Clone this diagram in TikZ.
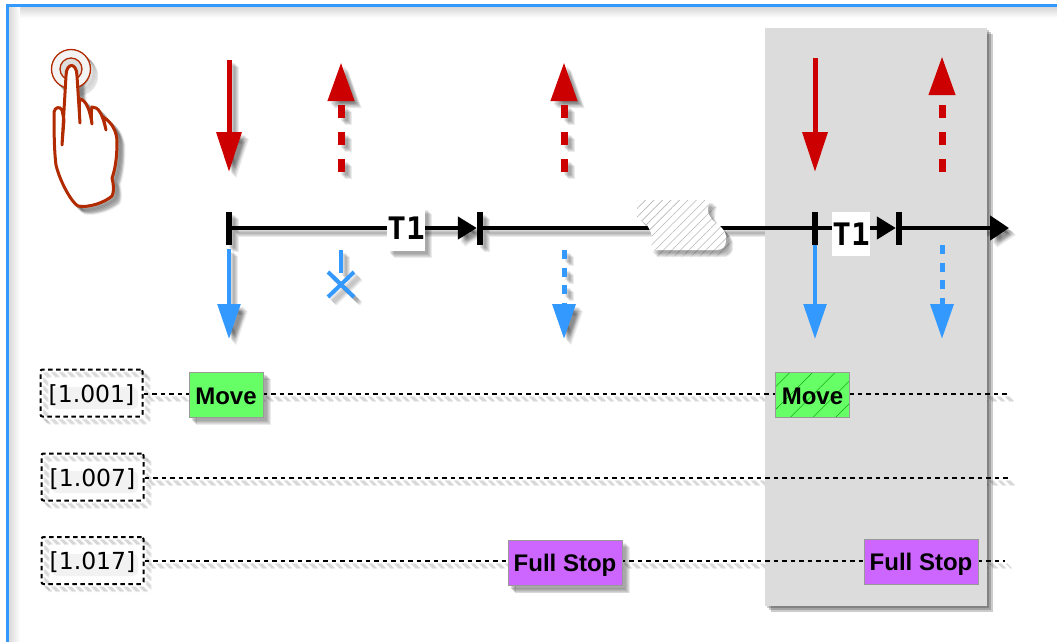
\documentclass[tikz,border=0pt]{standalone}
\usepackage{fontspec}
\usetikzlibrary{arrows.meta,calc,positioning,patterns.meta}
\newfontfamily\boxfamily{Liberation Sans}
\newfontfamily\idfamily{DejaVu Sans}
\newfontfamily\timefamily{DejaVu Sans Mono}

\definecolor{redmark}{HTML}{CC0000}
\definecolor{bluemark}{HTML}{3399FF}
\definecolor{boxgreen}{HTML}{66FF66}
\definecolor{boxpurple}{HTML}{CC66FF}
\definecolor{handred}{HTML}{B22A00}
\definecolor{blackmark}{HTML}{000000}
\definecolor{paper}{HTML}{FFFFFF}
\definecolor{ringgray}{HTML}{DDDDDD}
\definecolor{boxedge}{HTML}{999999}
\definecolor{panelgray}{HTML}{DCDCDC}

% Shadow layers leave the texts out
\newif\ifshadowpass
\newcommand{\scenetext}[1]{\ifshadowpass\else#1\fi}
\newcommand{\lowtext}[1]{\scenetext{\raisebox{-2pt}[\height][\depth]{#1}}}

\tikzset{
    redsolid/.style={draw=redmark,line width=5pt,-{Triangle[length=40pt,width=24.5pt,color=redmark]}},
    reddash/.style={draw=redmark,line width=7pt,dash pattern=on 13pt off 14pt,-{Triangle[length=39pt,width=25pt,color=redmark]}},
    bluesolid/.style={draw=bluemark,line width=4pt,-{Triangle[length=35pt,width=22.5pt,color=bluemark]}},
    bluedash/.style={draw=bluemark,line width=5pt,dash pattern=on 9pt off 8.5pt,-{Triangle[length=35pt,width=22.5pt,color=bluemark]}},
    bluecross/.style={draw=bluemark,line width=4pt},
    tickmark/.style={fill=blackmark,inner sep=0pt,minimum width=6pt,minimum height=33pt},
    axisline/.style={draw=blackmark,line width=4.5pt},
    axisarrow/.style={axisline,-{Triangle[length=19pt,width=22pt,color=blackmark]}},
    timebox/.style={fill=paper,inner sep=0pt,minimum width=38pt,minimum height=44pt,text=blackmark,font=\timefamily\bfseries\fontsize{31}{31}\selectfont},
    idbox/.style={draw=blackmark,line width=2pt,dash pattern=on 4.5pt off 3.5pt,rounded corners=2pt,inner sep=0pt,minimum width=102pt,minimum height=47pt,text=blackmark,font=\idfamily\fontsize{23.5}{24}\selectfont},
    rowline/.style={draw=blackmark,line width=2pt,dash pattern=on 4.5pt off 4pt},
    statebox/.style={draw=boxedge,line width=1pt,inner sep=0pt,minimum height=45pt,text=blackmark,font=\boxfamily\bfseries\fontsize{24}{24}\selectfont},
    movebox/.style={statebox,fill=boxgreen,minimum width=74pt},
    stopbox/.style={statebox,fill=boxpurple,minimum width=114pt},
    handline/.style={draw=handred,line width=3pt,line cap=round,line join=round},
}

% Everything that throws a shadow, drawn once per shadow layer and once for real
\newcommand{\diagramscene}{
    % Touching hand
    \filldraw[handline,line width=1.3pt,fill=ringgray!35] (71,69) circle (19.5);
    \filldraw[handline,line width=1.3pt,fill=ringgray] (71,69) circle (11);
    \filldraw[handline,fill=paper] (66,76) .. controls (66,62) and (77,62) .. (77,76) -- (80,123)
        .. controls (79,108) and (79,104) .. (80,99) .. controls (86,100) and (90,110) .. (92,124)
        .. controls (91,118) and (91,112) .. (92,107) .. controls (98,107) and (102,112) .. (106,130)
        .. controls (105,125) and (104,121) .. (103,117) .. controls (112,122) and (117,132) .. (117,142)
        .. controls (117,158) and (115,170) .. (112,178) .. controls (114,186) and (114,192) .. (112,196)
        .. controls (104,203) and (88,208) .. (78,206) .. controls (72,203) and (60,182) .. (56,165)
        .. controls (54,150) and (54,125) .. (54,112) .. controls (55,107) and (60,106) .. (62,110)
        -- (64,120) -- (62,145) -- cycle;

    % Press and release arrows of the finger
    \foreach \name/\x/\ya/\yb in {ra/229/60/172,rb/815/58/172} {
        \coordinate (\name s) at (\x,\ya);
        \coordinate (\name e) at (\x,\yb);
        \draw[redsolid] (\name s) -- (\name e);
    }
    \foreach \name/\x/\yb in {rc/341/62,rd/564/62,re/942/56} {
        \coordinate (\name s) at (\x,172);
        \coordinate (\name e) at (\x,\yb);
        \draw[reddash] (\name s) -- (\name e);
    }

    % Time line with its ticks
    \node[tickmark] (tick0) at (228.5,228) {};
    \node[tickmark] (tick1) at (480,228) {};
    \node[tickmark] (tick2) at (815,228) {};
    \node[tickmark] (tick3) at (899,228) {};
    \coordinate (axisend) at (1009,228);
    \draw[axisarrow] (tick0) -- (tick1);
    \draw[axisline] (tick1) -- (tick2);
    \draw[axisarrow] (tick2) -- (tick3);
    \draw[axisarrow,-{Triangle[length=19pt,width=24pt,color=blackmark]}] (tick3) -- (axisend);
    \node[timebox] (timea) at (406,228.5) {\scenetext{T1}};
    \node[timebox] (timeb) at (851,234) {\scenetext{T1}};

    % Gap in the time line
    \path[fill=paper] (637,200) -- (710,200)
        .. controls (705,213) and (710,218) .. (716,223) .. controls (726,230) and (727,236) .. (726,241)
        .. controls (726,247) and (722,250) .. (716,250) -- (650,250)
        .. controls (655,238) and (650,230) .. (647,225) -- (637,217) -- cycle;
    \path[pattern={Lines[angle=45,distance=6pt,line width=.6pt]},pattern color=boxedge!70] (637,200) -- (710,200)
        .. controls (705,213) and (710,218) .. (716,223) .. controls (726,230) and (727,236) .. (726,241)
        .. controls (726,247) and (722,250) .. (716,250) -- (650,250)
        .. controls (655,238) and (650,230) .. (647,225) -- (637,217) -- cycle;

    % Arrows to the screen
    \foreach \name/\x/\ya in {ba/229/249,bb/815/245} {
        \coordinate (\name s) at (\x,\ya);
        \coordinate (\name e) at (\x,339);
        \draw[bluesolid] (\name s) -- (\name e);
    }
    \foreach \name/\x/\ya in {bc/564/250,bd/942/245} {
        \coordinate (\name s) at (\x,\ya);
        \coordinate (\name e) at (\x,339);
        \draw[bluedash] (\name s) -- (\name e);
    }
    \coordinate (bxs) at (341,250);
    \coordinate (bxe) at (341,273);
    \coordinate (bx1) at (328,272);
    \coordinate (bx2) at (354,297);
    \coordinate (bx3) at (354,272);
    \coordinate (bx4) at (328,297);
    \draw[bluecross] (bxs) -- (bxe);
    \draw[bluecross] (bx1) -- (bx2);
    \draw[bluecross] (bx3) -- (bx4);

    % Rows of the view ids
    \node[idbox] (ida) at (91.5,393) {\lowtext{[1.001]}};
    \node[idbox] (idb) at (92.5,477) {\lowtext{[1.007]}};
    \node[idbox] (idc) at (92.5,560.5) {\lowtext{[1.017]}};
    \coordinate (rowa) at (1009,394);
    \coordinate (rowb) at (1009,478);
    \coordinate (rowc) at (1005,561);
    \draw[rowline] (ida.east |- rowa) -- (rowa);
    \draw[rowline] (idb.east |- rowb) -- (rowb);
    \draw[rowline] (idc.east |- rowc) -- (rowc);

    % Gestures on the rows
    \node[movebox] (movea) at (226,394.5) {\lowtext{Move}};
    \node[stopbox] (stopa) at (565,563) {\lowtext{Full Stop}};
}

\begin{document}
\begin{tikzpicture}[x=1pt,y=-1pt]
    \useasboundingbox (0,0) rectangle (1057,642);
    \fill[white] (0,0) rectangle (1057,642);

    % Frame with its inner shadow
    \shade[top color=black!16,bottom color=white] (8,7) rectangle (1057,18);
    \shade[left color=black!16,right color=white] (8,7) rectangle (20,642);
    \coordinate (framea) at (7.5,642);
    \coordinate (frameb) at (7.5,5.5);
    \coordinate (framec) at (1057,5.5);
    \draw[bluemark,line width=2.5pt] (framea) -- (frameb) -- (framec);

    % Shadow layers
    \foreach \s in {3,4,5,6,7} {
        \begin{scope}[shift={(\s,\s)},opacity=.08]
            \shadowpasstrue
            \colorlet{redmark}{black}\colorlet{bluemark}{black}\colorlet{boxgreen}{black}
            \colorlet{boxpurple}{black}\colorlet{handred}{black}\colorlet{paper}{black}
            \colorlet{ringgray}{black}\colorlet{boxedge}{black}
            \diagramscene
        \end{scope}
    }

    % Soft shadow of the id texts
    \foreach \y in {397,481,564} {
        \fill[black,opacity=.05,rounded corners=5pt] (52,\y-10) rectangle (138,\y+12);
    }

    % Grey part of the time line
    \foreach \s in {2,4,6} {
        \fill[black,opacity=.2] (765+\s,28+\s) rectangle (987+\s,606+\s);
    }
    \fill[panelgray] (765,28) rectangle (987,606);

    \diagramscene

    % Gestures in the grey part
    \node[movebox,preaction={fill=boxgreen},pattern={Lines[angle=45,distance=16pt,line width=.4pt]},pattern color=green!55!black] (moveb) at (812.5,394.5) {\lowtext{Move}};
    \node[stopbox] (stopb) at (921,562) {\lowtext{Full Stop}};
\end{tikzpicture}
\end{document}
